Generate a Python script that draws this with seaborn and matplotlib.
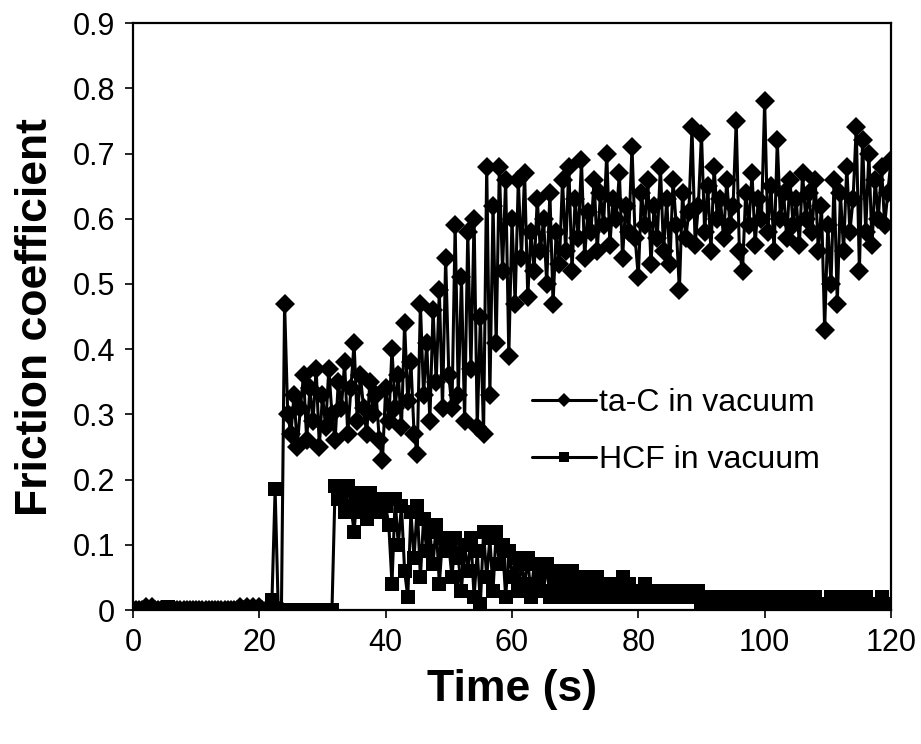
import matplotlib
matplotlib.use("Agg")
import matplotlib.pyplot as plt
import numpy as np
import pandas as pd
import seaborn as sns

# time axis, 0.5 s sampling
time_s = np.arange(0, 120.5, 0.5)

# ta-C in vacuum
tac = [
    0.0, 0.0, 0.0, 0.0, 0.005, 0.0, 0.005, 0.0, 0.0, 0.0,
    0.0, 0.0, 0.0, 0.0, 0.0, 0.0, 0.0, 0.0, 0.0, 0.0,
    0.0, 0.0, 0.0, 0.0, 0.0, 0.0, 0.0, 0.0, 0.0, 0.0,
    0.0, 0.0, 0.0, 0.0, 0.005, 0.0, 0.005, 0.0, 0.005, 0.0,
    0.005, 0.0, 0.0, 0.0, 0.0, 0.0, 0.0, 0.0,
    0.47,
    0.30, 0.27, 0.33, 0.25, 0.31, 0.36, 0.26, 0.34, 0.29, 0.37, 0.25,
    0.33, 0.28, 0.37, 0.30, 0.26, 0.35, 0.31, 0.38, 0.27, 0.34,
    0.41, 0.29, 0.36, 0.31, 0.27, 0.35, 0.30, 0.33, 0.26, 0.23,
    0.34, 0.29, 0.40, 0.31, 0.36, 0.28, 0.44, 0.32, 0.38, 0.27,
    0.24, 0.47, 0.33, 0.41, 0.29, 0.46, 0.35, 0.49, 0.31, 0.54,
    0.36, 0.31, 0.59, 0.33, 0.51, 0.29, 0.58, 0.37, 0.60, 0.28,
    0.45, 0.27, 0.68, 0.33, 0.62, 0.41, 0.68, 0.52, 0.66, 0.39,
    0.60, 0.47, 0.66, 0.54, 0.67, 0.48, 0.58, 0.52, 0.63, 0.55,
    0.60, 0.50, 0.64, 0.47, 0.58, 0.53, 0.66, 0.55, 0.68, 0.52,
    0.63, 0.57, 0.69, 0.54, 0.61, 0.58, 0.66, 0.55, 0.64, 0.59,
    0.70, 0.56, 0.63, 0.60, 0.67, 0.54, 0.62, 0.58, 0.71, 0.57,
    0.51, 0.64, 0.59, 0.66, 0.53, 0.62, 0.57, 0.68, 0.55, 0.63,
    0.53, 0.66, 0.59, 0.49, 0.64, 0.57, 0.61, 0.74, 0.56, 0.62,
    0.73, 0.58, 0.65, 0.55, 0.68, 0.60, 0.63, 0.57, 0.66, 0.59,
    0.62, 0.75, 0.55, 0.52, 0.64, 0.59, 0.67, 0.56, 0.63, 0.60,
    0.78, 0.58, 0.65, 0.55, 0.72, 0.60, 0.64, 0.57, 0.66, 0.59,
    0.63, 0.56, 0.67, 0.60, 0.64, 0.58, 0.66, 0.55, 0.62, 0.43,
    0.59, 0.50, 0.66, 0.47, 0.64, 0.55, 0.68, 0.58, 0.63, 0.74,
    0.52, 0.72, 0.58, 0.70, 0.56, 0.66, 0.60, 0.68, 0.59, 0.64,
    0.69,
]

# HCF in vacuum
hcf = [
    0.0, 0.0, 0.0, 0.0, 0.0, 0.0, 0.0, 0.0, 0.0, 0.0,
    0.0, 0.005, 0.0, 0.0, 0.0, 0.0, 0.0, 0.0, 0.0, 0.0,
    0.0, 0.0, 0.0, 0.0, 0.0, 0.0, 0.0, 0.0, 0.0, 0.0,
    0.0, 0.0, 0.0, 0.0, 0.0, 0.0, 0.0, 0.0, 0.0, 0.0,
    0.0, 0.0, 0.0, 0.0, 0.015,
    0.185,
    0.0, 0.0, 0.0, 0.0, 0.0, 0.0, 0.0, 0.0, 0.0, 0.0,
    0.0, 0.0, 0.0, 0.0, 0.0, 0.0, 0.0, 0.0,
    0.19, 0.17, 0.18, 0.15, 0.19, 0.16,
    0.12, 0.18, 0.15, 0.17, 0.14, 0.18, 0.16, 0.17, 0.15, 0.17,
    0.16, 0.13, 0.04, 0.17, 0.10, 0.16, 0.06, 0.02, 0.15, 0.08,
    0.16, 0.05, 0.14, 0.09, 0.12, 0.07, 0.13, 0.04, 0.11, 0.09,
    0.10, 0.05, 0.11, 0.08, 0.03, 0.10, 0.06, 0.11, 0.02, 0.09,
    0.01, 0.12, 0.05, 0.11, 0.03, 0.12, 0.07, 0.10, 0.02, 0.09,
    0.05, 0.08, 0.03, 0.07, 0.04, 0.08, 0.02, 0.07, 0.04, 0.06,
    0.03, 0.07, 0.02, 0.06, 0.04, 0.06, 0.02, 0.05, 0.03, 0.06,
    0.02, 0.05, 0.03, 0.05, 0.02, 0.04, 0.03, 0.05, 0.02, 0.04,
    0.03, 0.04, 0.02, 0.04, 0.03, 0.05, 0.02, 0.04, 0.03, 0.03,
    0.02, 0.03, 0.04, 0.02, 0.03, 0.03, 0.02, 0.03, 0.02, 0.03,
    0.02, 0.03, 0.02, 0.03, 0.02, 0.02, 0.03, 0.02, 0.02, 0.03,
    0.01, 0.02, 0.02, 0.01, 0.02, 0.02, 0.01, 0.02, 0.02, 0.01,
    0.02, 0.01, 0.02, 0.02, 0.01, 0.02, 0.01, 0.02, 0.01, 0.02,
    0.01, 0.02, 0.01, 0.02, 0.01, 0.02, 0.01, 0.01, 0.02, 0.01,
    0.02, 0.01, 0.01, 0.02, 0.01, 0.01, 0.02, 0.01, 0.00, 0.01,
    0.01, 0.02, 0.01, 0.00, 0.01, 0.02, 0.01, 0.01, 0.02, 0.01,
    0.00, 0.01, 0.02, 0.01, 0.01, 0.00, 0.01, 0.02, 0.01, 0.01,
    0.01,
]

x_ticks = [0, 20, 40, 60, 80, 100, 120]
y_ticks = [0, 0.1, 0.2, 0.3, 0.4, 0.5, 0.6, 0.7, 0.8, 0.9]
y_tick_labels = ["0", "0.1", "0.2", "0.3", "0.4", "0.5", "0.6", "0.7", "0.8", "0.9"]

sns.set_style("ticks")
plt.rcParams['font.family'] = ['Liberation Sans', 'DejaVu Sans']
plt.rcParams['text.color'] = 'black'
plt.rcParams['axes.labelcolor'] = 'black'
plt.rcParams['xtick.color'] = 'black'
plt.rcParams['ytick.color'] = 'black'

df_tac = pd.DataFrame({'time': time_s, 'mu': tac})
df_hcf = pd.DataFrame({'time': time_s, 'mu': hcf})

fig = plt.figure(figsize=(9.21, 7.44), dpi=100)
ax = fig.add_axes([0.1444, 0.180, 0.8230, 0.789])

sns.lineplot(data=df_tac, x='time', y='mu', ax=ax, color='black', lw=2.2,
             marker='D', markersize=10, markeredgewidth=0, sort=False,
             label='ta-C in vacuum')
sns.lineplot(data=df_hcf, x='time', y='mu', ax=ax, color='black', lw=2.2,
             marker='s', markersize=10.5, markeredgewidth=0, sort=False,
             label='HCF in vacuum')

ax.set_xlim(0, 120)
ax.set_ylim(0, 0.9)
ax.set_xticks(x_ticks)
ax.set_yticks(y_ticks)
ax.set_yticklabels(y_tick_labels)
ax.tick_params(axis='both', labelsize=22, direction='out', length=6, width=1.2,
               color='black', labelcolor='black', pad=7)
for s in ax.spines.values():
    s.set_visible(True)
    s.set_linewidth(1.6)
    s.set_color('black')

ax.set_xlabel('Time (s)', fontsize=32, fontweight='bold', labelpad=8)
ax.set_ylabel('Friction coefficient', fontsize=32, fontweight='bold', labelpad=12)

leg = ax.legend(loc='upper left', bbox_to_anchor=(0.51, 0.40), frameon=False,
                fontsize=23, handlelength=2.0, handletextpad=0.1,
                labelspacing=0.85, markerscale=0.7, borderaxespad=0)
for t in leg.get_texts():
    t.set_color('black')

fig.savefig('out.png', dpi=100)
